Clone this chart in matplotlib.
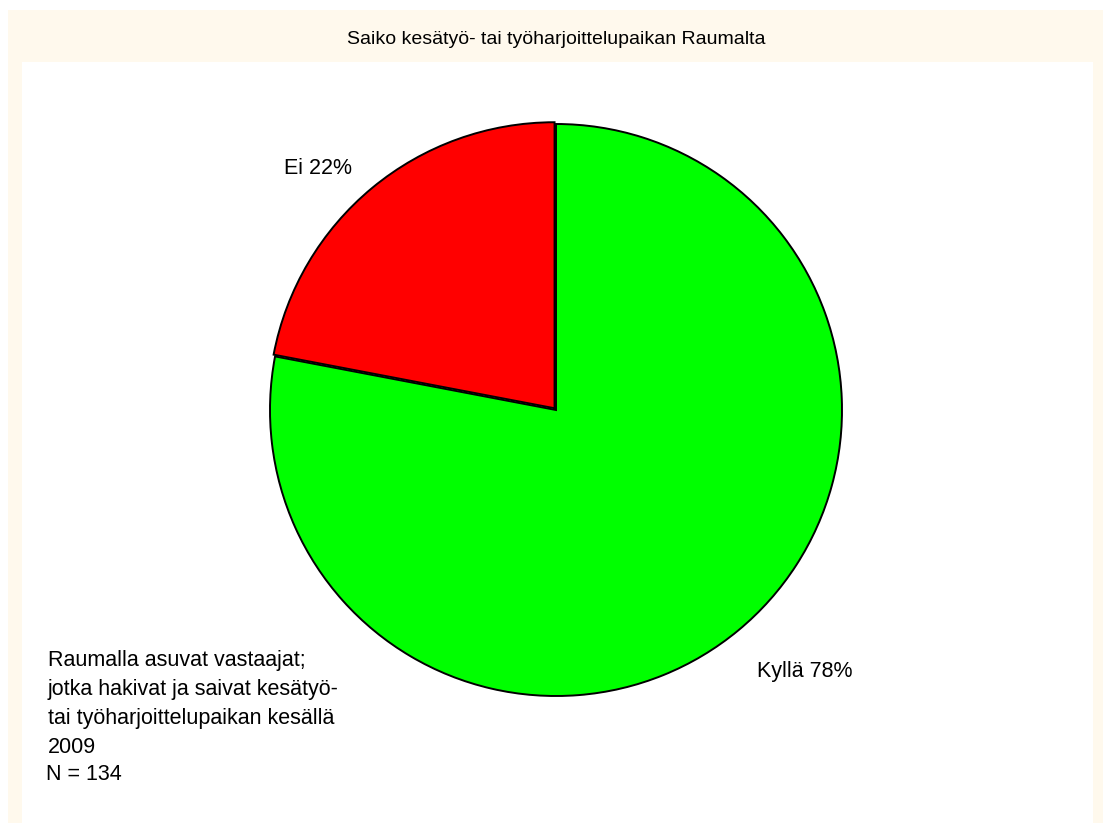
import matplotlib.pyplot as plt
from matplotlib.patches import Rectangle

plt.rcParams['font.family'] = ['Liberation Sans', 'DejaVu Sans']

labels = ['Ei', 'Kyllä']
shares = [22, 78]
colors = ['#ff0000', '#00ff00']
title = 'Saiko kesätyö- tai työharjoittelupaikan Raumalta'
note = ('Raumalla asuvat vastaajat;\n'
        'jotka hakivat ja saivat kesätyö-\n'
        'tai työharjoittelupaikan kesällä\n'
        '2009')
n_total = 134

W, H = 1103, 823
fig = plt.figure(figsize=(W / 100, H / 100), dpi=100, facecolor='white')

def px(x, y):
    # pixel coords (origin top-left) -> figure fraction
    return x / W, 1 - y / H

# cream frame with white plot area inside
fig.patches.append(Rectangle((8 / W, 0), (W - 8) / W, (H - 10) / H,
                             transform=fig.transFigure, facecolor='#fff9ed',
                             edgecolor='none', zorder=0))
fig.patches.append(Rectangle((22 / W, 0), (1093 - 22) / W, (H - 62) / H,
                             transform=fig.transFigure, facecolor='white',
                             edgecolor='none', zorder=0))

cx, cy, r = 556, 410, 286
ax = fig.add_axes([(cx - r) / W, (H - cy - r) / H, 2 * r / W, 2 * r / H])
ax.set_zorder(2)
ax.pie(shares, colors=colors, startangle=90, counterclock=True,
       explode=[0.008, 0.0],
       wedgeprops=dict(edgecolor='black', linewidth=1.4))
ax.set_xlim(-1, 1)
ax.set_ylim(-1, 1)
ax.set_aspect('equal')
ax.axis('off')

x, y = px(556, 40)
fig.text(x, y, title, ha='center', va='center', fontsize=14, zorder=3)

label_pos = [(318, 168), (805, 672)]
for lab, val, (lx, ly) in zip(labels, shares, label_pos):
    x, y = px(lx, ly)
    fig.text(x, y, f'{lab} {val}%', ha='center', va='center',
             fontsize=15.5, zorder=3)

x, y = px(48, 650)
fig.text(x, y, note, ha='left', va='top', fontsize=15.5, linespacing=1.5,
         zorder=3)
x, y = px(46, 775)
fig.text(x, y, f'N = {n_total}', ha='left', va='center', fontsize=15.5,
         zorder=3)

fig.savefig('out.png', dpi=100, facecolor=fig.get_facecolor())
